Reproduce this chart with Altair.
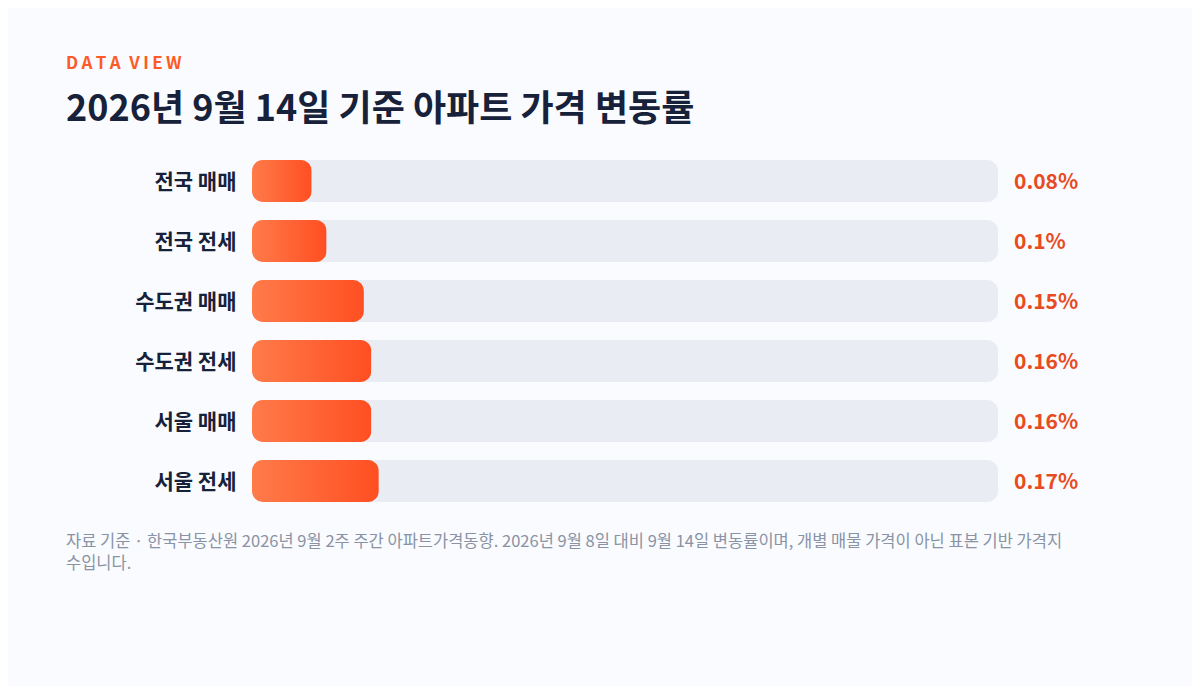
import altair as alt
import pandas as pd

categories = ["전국 매매", "전국 전세", "수도권 매매", "수도권 전세", "서울 매매", "서울 전세"]
values = [0.08, 0.10, 0.15, 0.16, 0.16, 0.17]
labels = ["0.08%", "0.1%", "0.15%", "0.16%", "0.16%", "0.17%"]
track_max = 1.0

kicker = "D\u2009A\u2009T\u2009A\u2002V\u2009I\u2009E\u2009W"
title_text = "2026년 9월 14일 기준 아파트 가격 변동률"
footnote_lines = [
    "자료 기준 · 한국부동산원 2026년 9월 2주 주간 아파트가격동향. 2026년 9월 8일 대비 9월 14일 변동률이며, 개별 매물 가격이 아닌 표본 기반 가격지",
    "수입니다.",
]

FONT = "Noto Sans CJK KR"

df = pd.DataFrame({"cat": categories, "value": values, "label": labels, "track": [track_max] * len(categories)})

W, H = 746, 360

yenc = alt.Y("cat:N", sort=categories,
             scale=alt.Scale(paddingInner=0.3, paddingOuter=0.15),
             axis=alt.Axis(title=None, ticks=False, domain=False, labelPadding=16, labelOffset=2,
                           labelFontSize=21, labelFontWeight="bold", labelColor="#17213a",
                           labelFont=FONT))
xscale = alt.Scale(domain=[0, track_max], nice=False)

base = alt.Chart(df)

track = base.mark_bar(cornerRadius=11, color="#e9edf3").encode(
    x=alt.X("track:Q", scale=xscale, axis=None), y=yenc)

bars = base.mark_bar(cornerRadius=11, color=alt.Gradient(
    gradient="linear",
    stops=[alt.GradientStop(color="#ff7b4a", offset=0), alt.GradientStop(color="#ff4f22", offset=1)],
    x1=0, x2=1, y1=0, y2=0)).encode(
    x=alt.X("value:Q", scale=xscale, axis=None), y=yenc)

txt = base.mark_text(align="left", baseline="middle", dx=16, dy=2, fontSize=21, fontWeight="bold",
                     color="#e84a22", font=FONT).encode(
    x=alt.X("track:Q", scale=xscale, axis=None), y=yenc, text="label:N")

foot_df = pd.DataFrame({"t": ["\n".join(footnote_lines)]})
foot = alt.Chart(foot_df).mark_text(align="left", baseline="alphabetic", fontSize=16.5,
                                     color="#8a93a5", font=FONT, lineBreak="\n", lineHeight=22).encode(
    x=alt.value(-186), y=alt.value(396), text="t:N")

chart = alt.layer(track, bars, txt, foot).properties(
    width=W, height=H,
    padding={"left": 244, "top": 143, "right": 194, "bottom": 175},
    autosize=alt.AutoSizeParams(type="none"),
    background="#f9fbfe",
    title=alt.TitleParams(
        text=kicker, subtitle=title_text, anchor="start", frame="group", dx=-186, offset=22,
        font=FONT, fontSize=17, fontWeight="bold", color="#ff5a26",
        subtitleFont=FONT, subtitleFontSize=36, subtitleFontWeight="bold", subtitleColor="#17213a",
        subtitlePadding=20,
    ),
).configure_view(stroke=None)

chart.save("out.html", embed_options={"renderer": "svg", "actions": False})
